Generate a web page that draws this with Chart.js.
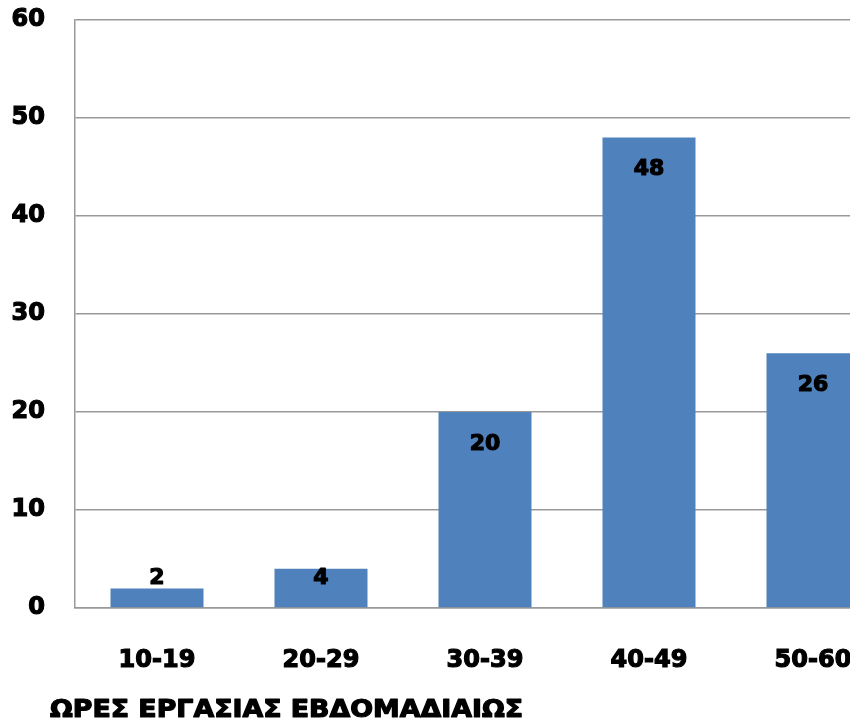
<!DOCTYPE html>
<html>
<head>
<meta charset="utf-8">
<script src="https://cdn.jsdelivr.net/npm/chart.js@4/dist/chart.umd.min.js"></script>
<style>
  html, body { margin: 0; padding: 0; background: #fff; overflow: hidden; }
  #wrap { width: 900px; height: 750px; position: relative; }
</style>
</head>
<body>
<div id="wrap"><canvas id="c" width="900" height="750"></canvas></div>
<script>
// Weekly working hours distribution
const categories = ['10-19', '20-29', '30-39', '40-49', '50-60'];
const counts = [2, 4, 20, 48, 26];
const yTicks = [0, 10, 20, 30, 40, 50, 60];
const axisTitle = 'ΩΡΕΣ ΕΡΓΑΣΙΑΣ ΕΒΔΟΜΑΔΙΑΙΩΣ';

const FONT = '"DejaVu Sans", "Liberation Sans", Arial, sans-serif';

// Heavy text: fill plus a thin outline of the same colour
function heavyText(ctx, text, x, y) {
  ctx.lineWidth = 1.2;
  ctx.strokeStyle = '#000';
  ctx.lineJoin = 'round';
  ctx.strokeText(text, x, y);
  ctx.fillText(text, x, y);
}

// Value labels inside the top of each bar, kept clear of the baseline
const valueLabels = {
  id: 'valueLabels',
  afterDatasetsDraw(chart) {
    const ctx = chart.ctx;
    const meta = chart.getDatasetMeta(0);
    const base = chart.scales.y.getPixelForValue(0);
    ctx.save();
    ctx.font = 'bold 22px ' + FONT;
    ctx.fillStyle = '#000';
    ctx.textAlign = 'center';
    ctx.textBaseline = 'middle';
    meta.data.forEach((bar, i) => {
      const y = Math.min(bar.y + 32, base - 30);
      heavyText(ctx, String(counts[i]), bar.x, y);
    });
    ctx.restore();
  }
};

// Category axis title, left-aligned below the tick labels
const bottomTitle = {
  id: 'bottomTitle',
  afterDraw(chart) {
    const ctx = chart.ctx;
    ctx.save();
    ctx.font = 'bold 24px ' + FONT;
    ctx.fillStyle = '#000';
    ctx.textAlign = 'left';
    ctx.textBaseline = 'middle';
    const w = ctx.measureText(axisTitle).width;
    const sx = 473 / w;
    ctx.translate(50, 711);
    ctx.scale(sx, 1);
    heavyText(ctx, axisTitle, 0, 0);
    ctx.restore();
  }
};

new Chart(document.getElementById('c'), {
  type: 'bar',
  data: {
    labels: categories,
    datasets: [{
      data: counts,
      backgroundColor: '#4F81BD',
      borderWidth: 0,
      barPercentage: 0.567,
      categoryPercentage: 1
    }]
  },
  options: {
    responsive: false,
    animation: false,
    devicePixelRatio: 1,
    layout: { padding: { left: 0, top: 20, right: 5, bottom: 0 } },
    plugins: {
      legend: { display: false },
      tooltip: { enabled: false }
    },
    scales: {
      x: {
        grid: { display: false, drawTicks: false },
        border: { display: true, color: '#999', width: 1.5 },
        ticks: {
          color: '#000',
          font: { family: FONT, size: 24, weight: 'bold' },
          textStrokeColor: '#000',
          textStrokeWidth: 1.2,
          padding: 38,
          maxRotation: 0
        },
        afterFit(scale) { scale.height = 142; }
      },
      y: {
        min: 0,
        max: 60,
        afterBuildTicks(scale) { scale.ticks = yTicks.map(v => ({ value: v })); },
        grid: { color: '#999', lineWidth: 1.5, drawTicks: false },
        border: { display: true, color: '#999', width: 1.5 },
        ticks: {
          color: '#000',
          font: { family: FONT, size: 24, weight: 'bold' },
          textStrokeColor: '#000',
          textStrokeWidth: 1.2,
          padding: 30
        },
        afterFit(scale) {
          scale.width = 75;
          scale.paddingTop = 0;
          scale.paddingBottom = 0;
        }
      }
    }
  },
  plugins: [valueLabels, bottomTitle]
});
</script>
</body>
</html>
